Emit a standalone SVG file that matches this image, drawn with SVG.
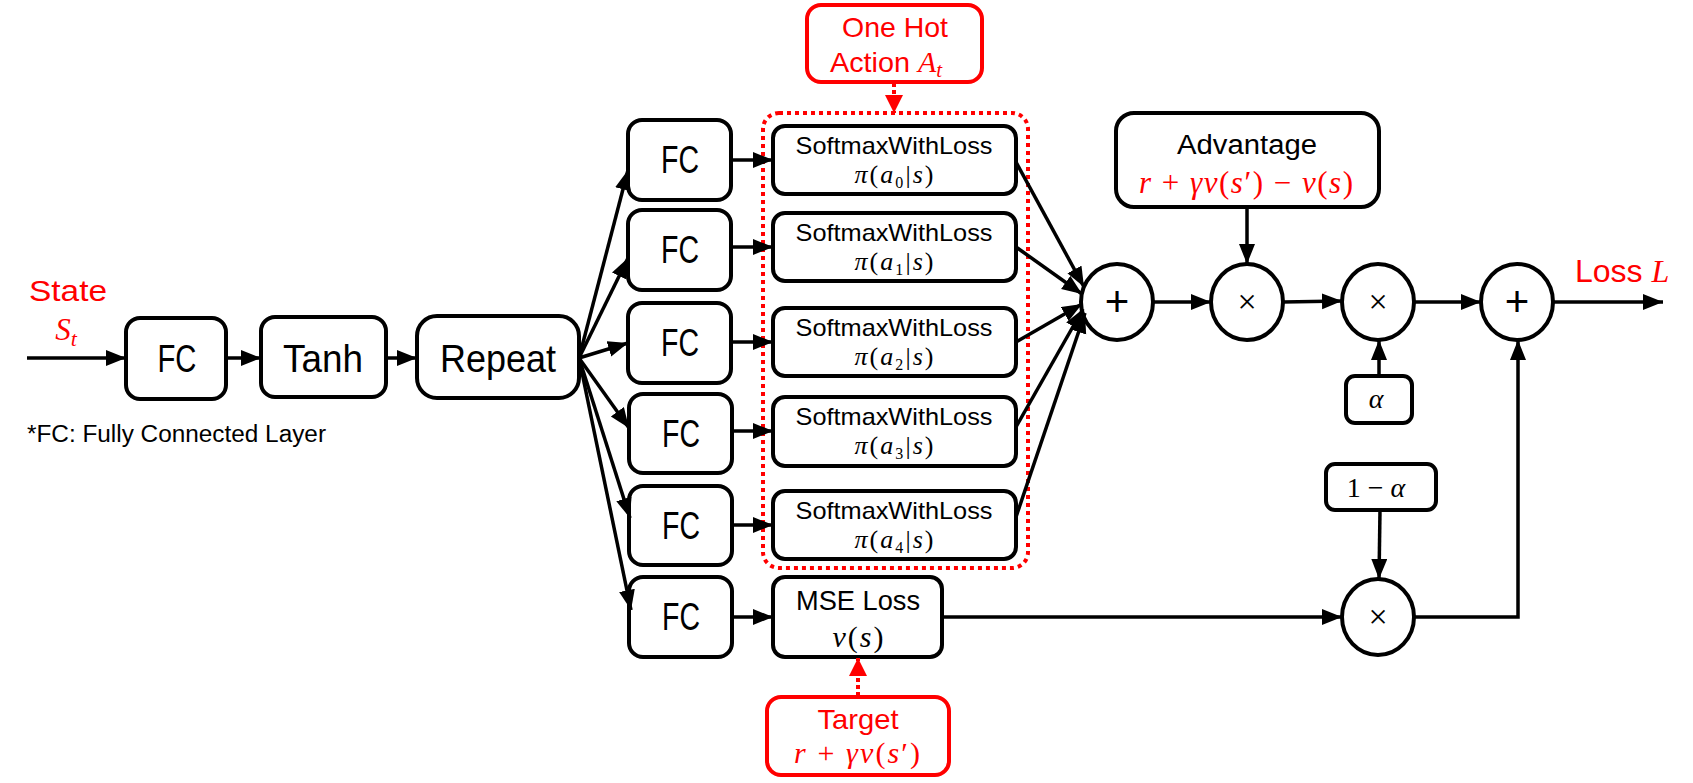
<svg xmlns="http://www.w3.org/2000/svg" width="1693" height="783" viewBox="0 0 1693 783">
<style>
.box{fill:#fff;stroke:#000;stroke-width:4}
.rbox{fill:#fff;stroke:#f00;stroke-width:4}
.circ{fill:#fff;stroke:#000;stroke-width:4}
.ln{fill:none;stroke:#000;stroke-width:3.5}
.rln{fill:none;stroke:#f00;stroke-width:4;stroke-dasharray:4 3}
.sans{font-family:"Liberation Sans",Arial,sans-serif;fill:#000}
.red{fill:#f00}
.math{font-family:"Liberation Serif","DejaVu Serif",serif}
.it{font-style:italic}
.big{font-size:38px}
.mid{font-size:24px}
</style>
<defs>
<marker id="ah" markerUnits="userSpaceOnUse" markerWidth="22" markerHeight="18" refX="20" refY="8" orient="auto">
<path d="M0,0 L20,8 L0,16 z" fill="#000"/>
</marker>
<marker id="rah" markerUnits="userSpaceOnUse" markerWidth="22" markerHeight="18" refX="18" refY="9" orient="auto">
<path d="M0,0 L18,9 L0,18 z" fill="#f00"/>
</marker>
</defs>
<rect width="1693" height="783" fill="#fff"/>

<g id="state-label">
<text class="sans red" x="68" y="301" font-size="30" text-anchor="middle" textLength="78" lengthAdjust="spacingAndGlyphs">State</text>
<text class="math red" x="66" y="340" font-size="31" text-anchor="middle"><tspan class="it">S</tspan><tspan class="it" font-size="22" dy="6">t</tspan></text>
</g>
<text class="sans" x="27" y="442" font-size="23" textLength="299" lengthAdjust="spacingAndGlyphs">*FC: Fully Connected Layer</text>

<g id="fc-in">
<rect class="box" x="126" y="318" width="100" height="81" rx="14"/>
<text class="sans big" x="177" y="372" text-anchor="middle" textLength="39" lengthAdjust="spacingAndGlyphs">FC</text>
</g>
<g id="tanh">
<rect class="box" x="261" y="317" width="125" height="80" rx="14"/>
<text class="sans big" x="323" y="372" text-anchor="middle" textLength="80" lengthAdjust="spacingAndGlyphs">Tanh</text>
</g>
<g id="repeat">
<rect class="box" x="417" y="316" width="162" height="82" rx="20"/>
<text class="sans big" x="498" y="372" text-anchor="middle" textLength="116" lengthAdjust="spacingAndGlyphs">Repeat</text>
</g>

<g id="fc0"><rect class="box" x="628" y="120" width="103" height="80" rx="14"/><text class="sans big" x="680" y="173" text-anchor="middle" textLength="38" lengthAdjust="spacingAndGlyphs">FC</text></g>
<g id="fc1"><rect class="box" x="628" y="210" width="103" height="80" rx="14"/><text class="sans big" x="680" y="263" text-anchor="middle" textLength="38" lengthAdjust="spacingAndGlyphs">FC</text></g>
<g id="fc2"><rect class="box" x="628" y="303" width="103" height="80" rx="14"/><text class="sans big" x="680" y="356" text-anchor="middle" textLength="38" lengthAdjust="spacingAndGlyphs">FC</text></g>
<g id="fc3"><rect class="box" x="629" y="394" width="103" height="79" rx="14"/><text class="sans big" x="681" y="447" text-anchor="middle" textLength="38" lengthAdjust="spacingAndGlyphs">FC</text></g>
<g id="fc4"><rect class="box" x="629" y="486" width="103" height="79" rx="14"/><text class="sans big" x="681" y="539" text-anchor="middle" textLength="38" lengthAdjust="spacingAndGlyphs">FC</text></g>
<g id="fc5"><rect class="box" x="629" y="577" width="103" height="80" rx="14"/><text class="sans big" x="681" y="630" text-anchor="middle" textLength="38" lengthAdjust="spacingAndGlyphs">FC</text></g>

<g id="softmax-group">
<rect x="763" y="113" width="265" height="455" rx="16" fill="none" stroke="#f00" stroke-width="4" stroke-dasharray="4 4"/>
</g>

<g id="sm0"><rect class="box" x="773" y="126" width="243" height="68" rx="12"/>
<text class="sans mid" x="894" y="154" text-anchor="middle" textLength="197" lengthAdjust="spacingAndGlyphs">SoftmaxWithLoss</text>
<text class="math" x="894" y="183" font-size="26" text-anchor="middle" textLength="79" lengthAdjust="spacing"><tspan class="it">π</tspan>(<tspan class="it">a</tspan><tspan font-size="16" dy="5">0</tspan><tspan dy="-5">|</tspan><tspan class="it">s</tspan>)</text></g>
<g id="sm1"><rect class="box" x="773" y="213" width="243" height="68" rx="12"/>
<text class="sans mid" x="894" y="241" text-anchor="middle" textLength="197" lengthAdjust="spacingAndGlyphs">SoftmaxWithLoss</text>
<text class="math" x="894" y="270" font-size="26" text-anchor="middle" textLength="79" lengthAdjust="spacing"><tspan class="it">π</tspan>(<tspan class="it">a</tspan><tspan font-size="16" dy="5">1</tspan><tspan dy="-5">|</tspan><tspan class="it">s</tspan>)</text></g>
<g id="sm2"><rect class="box" x="773" y="308" width="243" height="68" rx="12"/>
<text class="sans mid" x="894" y="336" text-anchor="middle" textLength="197" lengthAdjust="spacingAndGlyphs">SoftmaxWithLoss</text>
<text class="math" x="894" y="365" font-size="26" text-anchor="middle" textLength="79" lengthAdjust="spacing"><tspan class="it">π</tspan>(<tspan class="it">a</tspan><tspan font-size="16" dy="5">2</tspan><tspan dy="-5">|</tspan><tspan class="it">s</tspan>)</text></g>
<g id="sm3"><rect class="box" x="773" y="397" width="243" height="69" rx="12"/>
<text class="sans mid" x="894" y="425" text-anchor="middle" textLength="197" lengthAdjust="spacingAndGlyphs">SoftmaxWithLoss</text>
<text class="math" x="894" y="454" font-size="26" text-anchor="middle" textLength="79" lengthAdjust="spacing"><tspan class="it">π</tspan>(<tspan class="it">a</tspan><tspan font-size="16" dy="5">3</tspan><tspan dy="-5">|</tspan><tspan class="it">s</tspan>)</text></g>
<g id="sm4"><rect class="box" x="773" y="491" width="243" height="68" rx="12"/>
<text class="sans mid" x="894" y="519" text-anchor="middle" textLength="197" lengthAdjust="spacingAndGlyphs">SoftmaxWithLoss</text>
<text class="math" x="894" y="548" font-size="26" text-anchor="middle" textLength="79" lengthAdjust="spacing"><tspan class="it">π</tspan>(<tspan class="it">a</tspan><tspan font-size="16" dy="5">4</tspan><tspan dy="-5">|</tspan><tspan class="it">s</tspan>)</text></g>

<g id="mse"><rect class="box" x="773" y="577" width="169" height="80" rx="12"/>
<text class="sans" x="858" y="610" font-size="27" text-anchor="middle" textLength="124" lengthAdjust="spacingAndGlyphs">MSE Loss</text>
<text class="math" x="858" y="647" font-size="30" text-anchor="middle" textLength="51" lengthAdjust="spacing"><tspan class="it">v</tspan>(<tspan class="it">s</tspan>)</text></g>

<g id="onehot"><rect class="rbox" x="807" y="5" width="175" height="77" rx="14"/>
<text class="sans red" x="895" y="37" font-size="28" text-anchor="middle" textLength="106" lengthAdjust="spacingAndGlyphs">One Hot</text>
<text class="sans red" x="870" y="72" font-size="28" text-anchor="middle" textLength="80" lengthAdjust="spacingAndGlyphs">Action</text>
<text class="math red" x="930" y="72" font-size="30" text-anchor="middle"><tspan class="it">A</tspan><tspan class="it" font-size="21" dy="5">t</tspan></text></g>

<g id="target"><rect class="rbox" x="767" y="697" width="182" height="78" rx="14"/>
<text class="sans red" x="858" y="729" font-size="28" text-anchor="middle" textLength="81" lengthAdjust="spacingAndGlyphs">Target</text>
<text class="math red" x="857" y="763" font-size="30" text-anchor="middle" textLength="126" lengthAdjust="spacing"><tspan class="it">r</tspan> + <tspan class="it">γv</tspan>(<tspan class="it">s</tspan>′)</text></g>

<g id="advantage"><rect class="box" x="1116" y="113" width="263" height="94" rx="18"/>
<text class="sans" x="1247" y="154" font-size="27" text-anchor="middle" textLength="140" lengthAdjust="spacingAndGlyphs">Advantage</text>
<text class="math red" x="1246" y="193" font-size="31" text-anchor="middle" textLength="214" lengthAdjust="spacing"><tspan class="it">r</tspan> + <tspan class="it">γv</tspan>(<tspan class="it">s</tspan>′) − <tspan class="it">v</tspan>(<tspan class="it">s</tspan>)</text></g>

<g id="sum1"><ellipse class="circ" cx="1117" cy="302" rx="36" ry="38"/><text class="sans" x="1117" y="316" font-size="42" text-anchor="middle">+</text></g>
<g id="mul1"><ellipse class="circ" cx="1247" cy="302" rx="36" ry="38"/><text class="math" x="1247" y="313" font-size="34" text-anchor="middle">×</text></g>
<g id="mul2"><ellipse class="circ" cx="1378" cy="302" rx="36" ry="38"/><text class="math" x="1378" y="313" font-size="34" text-anchor="middle">×</text></g>
<g id="sum2"><ellipse class="circ" cx="1517" cy="302" rx="36" ry="38"/><text class="sans" x="1517" y="316" font-size="42" text-anchor="middle">+</text></g>
<g id="mul3"><ellipse class="circ" cx="1378" cy="617" rx="36" ry="38"/><text class="math" x="1378" y="628" font-size="34" text-anchor="middle">×</text></g>

<g id="alpha"><rect class="box" x="1346" y="376" width="66" height="47" rx="9"/>
<text class="math it" x="1376" y="408" font-size="28" text-anchor="middle">α</text></g>
<g id="one-minus-alpha"><rect class="box" x="1326" y="464" width="110" height="46" rx="9"/>
<text class="math" x="1376" y="497" font-size="28" text-anchor="middle">1 − <tspan class="it">α</tspan></text></g>

<g id="loss-label">
<text class="sans red" x="1575" y="282" font-size="32">Loss <tspan class="math it" font-family="Liberation Serif" font-style="italic">L</tspan></text>
</g>

<g id="connectors">
<line class="ln" x1="27" y1="358" x2="126" y2="358" marker-end="url(#ah)"/>
<line class="ln" x1="226" y1="358" x2="261" y2="358" marker-end="url(#ah)"/>
<line class="ln" x1="386" y1="358" x2="417" y2="358" marker-end="url(#ah)"/>
<line class="ln" x1="579" y1="358" x2="628" y2="170" marker-end="url(#ah)"/>
<line class="ln" x1="579" y1="358" x2="628" y2="258" marker-end="url(#ah)"/>
<line class="ln" x1="579" y1="358" x2="628" y2="343" marker-end="url(#ah)"/>
<line class="ln" x1="579" y1="358" x2="629" y2="428" marker-end="url(#ah)"/>
<line class="ln" x1="579" y1="358" x2="630" y2="518" marker-end="url(#ah)"/>
<line class="ln" x1="579" y1="358" x2="631" y2="610" marker-end="url(#ah)"/>
<line class="ln" x1="731" y1="160" x2="773" y2="160" marker-end="url(#ah)"/>
<line class="ln" x1="731" y1="247" x2="773" y2="247" marker-end="url(#ah)"/>
<line class="ln" x1="731" y1="342" x2="773" y2="342" marker-end="url(#ah)"/>
<line class="ln" x1="732" y1="431" x2="773" y2="431" marker-end="url(#ah)"/>
<line class="ln" x1="732" y1="525" x2="773" y2="525" marker-end="url(#ah)"/>
<line class="ln" x1="732" y1="617" x2="773" y2="617" marker-end="url(#ah)"/>
<line class="ln" x1="1016" y1="162" x2="1084" y2="287" marker-end="url(#ah)"/>
<line class="ln" x1="1016" y1="247" x2="1082" y2="294" marker-end="url(#ah)"/>
<line class="ln" x1="1016" y1="342" x2="1082" y2="304" marker-end="url(#ah)"/>
<line class="ln" x1="1016" y1="427" x2="1083" y2="309" marker-end="url(#ah)"/>
<line class="ln" x1="1016" y1="517" x2="1085" y2="313" marker-end="url(#ah)"/>
<line class="ln" x1="1153" y1="302" x2="1211" y2="302" marker-end="url(#ah)"/>
<line class="ln" x1="1247" y1="207" x2="1247" y2="264" marker-end="url(#ah)"/>
<line class="ln" x1="1283" y1="302" x2="1342" y2="301" marker-end="url(#ah)"/>
<line class="ln" x1="1379" y1="376" x2="1379" y2="340" marker-end="url(#ah)"/>
<line class="ln" x1="1414" y1="302" x2="1481" y2="302" marker-end="url(#ah)"/>
<line class="ln" x1="1553" y1="302" x2="1663" y2="302" marker-end="url(#ah)"/>
<line class="ln" x1="942" y1="617" x2="1342" y2="617" marker-end="url(#ah)"/>
<line class="ln" x1="1380" y1="510" x2="1379" y2="579" marker-end="url(#ah)"/>
<polyline class="ln" points="1414,617 1518,617 1518,340" marker-end="url(#ah)"/>
<line class="rln" x1="894" y1="83" x2="894" y2="113" marker-end="url(#rah)"/>
<line class="rln" x1="858" y1="696" x2="858" y2="658" marker-end="url(#rah)"/>
</g>
</svg>
